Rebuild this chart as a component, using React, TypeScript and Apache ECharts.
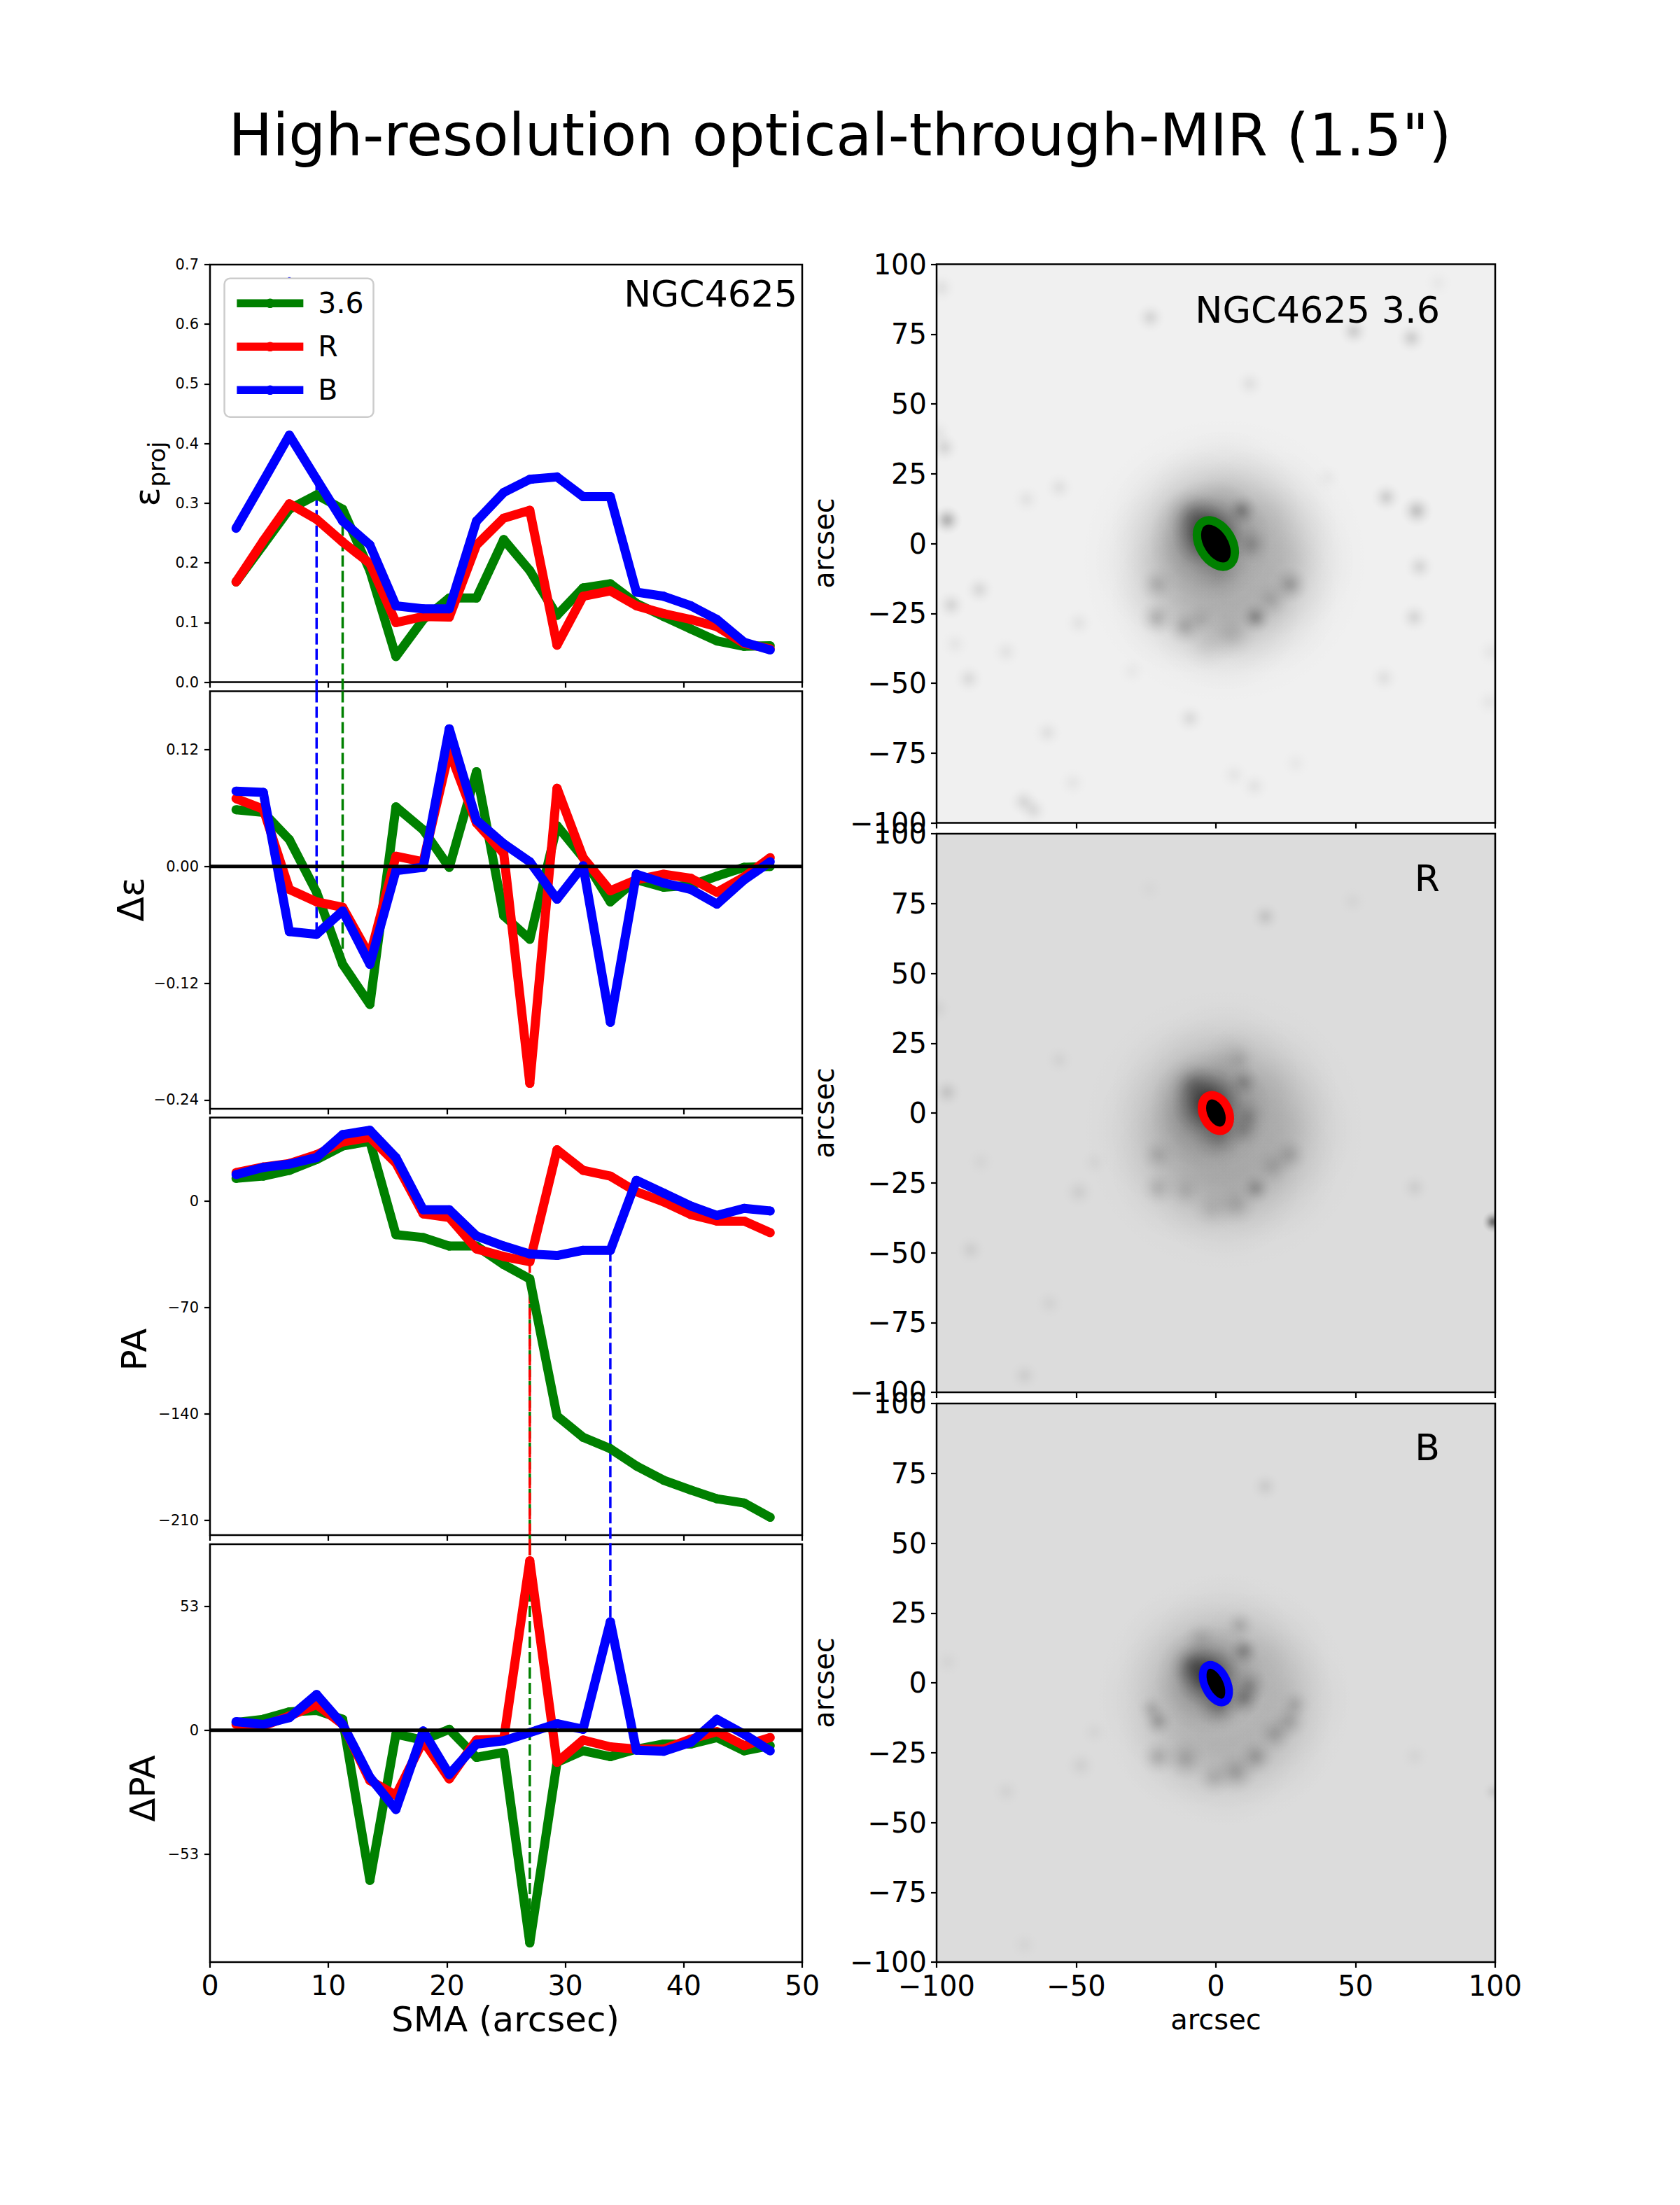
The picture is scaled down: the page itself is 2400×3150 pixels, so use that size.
import { useEffect, useRef } from "react";
import * as echarts from "echarts";

const FONT = "DejaVu Sans";
const GREEN = "#008000";
const RED = "#ff0000";
const BLUE = "#0000ff";

const sma = [2.2, 4.5, 6.7, 9.0, 11.2, 13.5, 15.7, 18.0, 20.2, 22.5, 24.8, 27.0, 29.3, 31.5, 33.8, 36.0, 38.3, 40.6, 42.8, 45.1, 47.3];

const eps36 = [0.168, 0.23, 0.29, 0.314, 0.29, 0.187, 0.043, 0.105, 0.141, 0.141, 0.239, 0.187, 0.112, 0.158, 0.165, 0.132, 0.11, 0.089, 0.069, 0.06, 0.061];
const epsR = [0.168, 0.237, 0.299, 0.273, 0.235, 0.199, 0.1, 0.11, 0.109, 0.23, 0.275, 0.288, 0.062, 0.144, 0.153, 0.128, 0.115, 0.105, 0.093, 0.065, 0.056];
const epsB = [0.258, 0.337, 0.414, 0.34, 0.27, 0.23, 0.128, 0.123, 0.123, 0.27, 0.318, 0.34, 0.344, 0.311, 0.311, 0.151, 0.144, 0.128, 0.105, 0.067, 0.054];

const dEps36 = [0.0583, 0.0555, 0.0276, -0.0265, -0.1005, -0.1417, 0.0612, 0.0376, -0.0009, 0.0973, -0.0507, -0.0748, 0.0418, 0.0091, -0.0364, -0.0137, -0.0213, -0.0194, -0.01, -0.0009, 0.0];
const dEpsR = [0.0697, 0.0589, -0.0236, -0.0364, -0.042, -0.092, 0.0105, 0.0048, 0.1187, 0.0447, 0.0134, -0.2228, 0.0803, 0.0091, -0.025, -0.0137, -0.008, -0.0122, -0.0265, -0.0108, 0.0091];
const dEpsB = [0.0774, 0.076, -0.0669, -0.0697, -0.0458, -0.1005, -0.0043, -0.0009, 0.1414, 0.0475, 0.0233, 0.0048, -0.0336, 0.0006, -0.16, -0.008, -0.017, -0.0236, -0.0387, -0.0137, 0.0048];

const pa36 = [15, 16.5, 20.3, 27.4, 36.3, 39.4, -22, -23.9, -29.5, -29.5, -41.7, -51.1, -141.2, -155.3, -162.8, -174.1, -183.5, -190, -195.7, -198.5, -207.9];
const paR = [18.8, 22.5, 24.8, 30.6, 39, 41.9, 25, -8.3, -10.7, -31.4, -36.4, -39.8, 33.8, 20.3, 16.5, 6.2, -0.4, -8.8, -13.1, -13.1, -20.7];
const paB = [17.5, 22.2, 24.4, 28.7, 43.8, 46.6, 28.7, -5.6, -5.6, -22.9, -29.5, -34.7, -35.7, -32.3, -32.3, 13.7, 5.3, -3.2, -9.4, -4.7, -6.4];

const dPa36 = [3.3, 4.7, 7.9, 8.5, 4.7, -64.2, -1.7, -4.2, 0.4, -11.6, -9.5, -91, -13.7, -8.8, -11.3, -8.1, -5.9, -5.9, -3.1, -8.8, -6.6];
const dPaR = [2.5, 1.8, 6.1, 11, 2.5, -21.5, -27.8, -4.5, -20.8, -4.2, -3.8, 72.5, -13.7, -4.2, -7.1, -8.1, -8.1, -3.8, -0.6, -6.6, -3.1];
const dPaB = [3.7, 2.5, 5.4, 15.3, 2.5, -20.1, -33.9, -0.3, -18.9, -5.9, -4.5, -1, 2.8, 0.4, 46.4, -8.5, -9, -5.2, 4.7, -1.7, -8.8];

const smaTicks = [0, 10, 20, 30, 40, 50];
const epsTicks = [0, 0.1, 0.2, 0.3, 0.4, 0.5, 0.6, 0.7];
const dEpsTicks = [-0.24, -0.12, 0, 0.12];
const paTicks = [-210, -140, -70, 0];
const dPaTicks = [-53, 0, 53];
const imgXTicks = [-100, -50, 0, 50, 100];
const imgYTicks = [-100, -75, -50, -25, 0, 25, 50, 75, 100];

// blobs: x, y (arcsec), radius (arcsec), darkness
const disk36 = [
  [3, -6, 52, 0.11], [23, -6, 27, 0.13], [17, 8, 27, 0.13], [3, 14, 27, 0.14], [-11, 8, 27, 0.13], [-17, -6, 27, 0.1], [-11, -20, 27, 0.13], [3, -26, 27, 0.15], [17, -20, 27, 0.13],
  [-2, 1, 22, 0.42], [-3, 4, 13, 0.55], [-8, 10, 10, 0.2], [1.5, -10, 11, 0.12],
];
const clots36 = [
  [9.3, 11.8, 6, 0.24], [12.8, -0.3, 7, 0.16], [-21, -14.7, 7, 0.13], [-21.2, -26.7, 7, 0.16], [-11, -29.8, 7, 0.16], [-5.5, -27, 6, 0.08],
  [14.2, -26.4, 6, 0.25], [26.6, -14.7, 7, 0.2], [19.8, -20, 7, 0.11], [5.8, -32.6, 9, 0.1], [-2.7, -36, 10, 0.06],
];
const stars36 = [
  [-23.5, 80.9, 5.5, 0.1], [49.4, 76, 5.5, 0.13], [70, 73.6, 5.5, 0.13], [12.1, 57.2, 5.5, 0.06], [61, 16.6, 5.5, 0.13], [71.9, 11.7, 6, 0.18],
  [72.9, -8.3, 5.5, 0.1], [71, -26.4, 5.5, 0.1], [60.2, -48.1, 5.5, 0.06], [-96.2, 8.4, 5.5, 0.24], [-97.2, 34.4, 5.5, 0.1], [-98.3, 91.6, 5.5, 0.06],
  [-94.8, -22, 5.5, 0.1], [-84.7, -16.5, 5.5, 0.09], [-56.1, 20.1, 5.5, 0.06], [-67.8, 15.8, 5.5, 0.05], [-88.5, -48.4, 5.5, 0.08], [-75.1, -38.8, 5.5, 0.05],
  [-60.3, -67.7, 5.5, 0.06], [-49.1, -28.5, 5.5, 0.05], [-9.3, -62.6, 5.5, 0.08], [-68.8, -92.4, 5.5, 0.09], [-65.3, -95.5, 5.5, 0.08], [13.8, -86.9, 5.5, 0.05],
  [6.5, -82.8, 5.5, 0.04], [-51.2, -85.6, 5.5, 0.04], [28.6, -78.7, 5.5, 0.03], [97.9, -56.7, 5.5, 0.04], [79.6, 93.3, 5.5, 0.03], [98.6, -38.8, 5.5, 0.04],
  [-99.7, 39.6, 5.5, 0.05], [39.9, 23.5, 5.5, 0.03], [-93.4, -36, 5.5, 0.04], [-30, -45.7, 5.5, 0.03],
];
const diskR = [
  [3, -6, 52, 0.09], [23, -6, 27, 0.11], [17, 8, 27, 0.11], [3, 14, 27, 0.12], [-11, 8, 27, 0.11], [-17, -6, 27, 0.09], [-11, -20, 27, 0.11], [3, -26, 27, 0.13], [17, -20, 27, 0.11],
  [-2, 1, 22, 0.42], [-3, 4, 13, 0.5], [-8, 10, 9, 0.2], [1, -8, 10, 0.22], [6, 21, 10, 0.05],
];
const clotsR = [
  [10, 11.1, 6, 0.16], [11.4, -1.2, 7, 0.16], [10, -6, 7, 0.16], [-20.7, -15, 7, 0.11], [-20.7, -27, 7, 0.11], [-11, -27.8, 7, 0.08], [14.2, -27, 6, 0.19],
  [20.5, -19, 7, 0.11], [26.2, -15, 7, 0.14], [7.2, -32.9, 8, 0.12], [-1.3, -34.3, 8, 0.08], [8.6, 19.4, 6, 0.07],
];
const starsR = [
  [17.7, 70.3, 5.5, 0.1], [71.2, -26.7, 5.5, 0.06], [99.3, -39, 4, 0.5], [-96.2, 7.4, 5.5, 0.1], [-87.8, -49, 5.5, 0.06], [-68.5, -94, 5.5, 0.06],
  [-59.6, -68.2, 5.5, 0.04], [-56.1, 19, 5.5, 0.04], [-49.1, -28.3, 6, 0.06], [-43.5, -17.7, 5.5, 0.03], [-84.2, -17.5, 5.5, 0.03], [-23.8, 80.2, 5.5, 0.02],
  [49, 75.8, 5.5, 0.03], [-100, 37.3, 5.5, 0.05],
];
const diskB = [
  [3, -6, 48, 0.07], [23, -6, 25, 0.1], [17, 8, 25, 0.1], [3, 14, 25, 0.1], [-11, 8, 25, 0.1], [-17, -6, 25, 0.08], [-11, -20, 25, 0.1], [3, -26, 25, 0.11], [17, -20, 25, 0.1],
  [-2, 1, 20, 0.42], [-3, 3, 12, 0.45], [-8, 6, 9, 0.28], [1, -8, 9, 0.28],
];
const clotsB = [
  [10, 11.4, 6, 0.22], [12.1, -1, 7, 0.19], [10, -5.6, 7, 0.26], [-20.7, -13.8, 6, 0.18], [-23, -9.3, 5.5, 0.12], [-20.7, -26.6, 7, 0.15],
  [-11, -27.3, 8, 0.15], [14.2, -26.6, 7, 0.18], [21.2, -18.3, 7, 0.15], [26.2, -13.8, 7, 0.15], [28.3, -7.8, 6, 0.12], [7.2, -32, 8, 0.18],
  [-0.6, -34, 7, 0.12], [8.6, 20.7, 6, 0.12], [-5.5, 16, 7, 0.09],
];
const starsB = [
  [17.7, 70.3, 5.5, 0.07], [71.2, -26.3, 5.5, 0.03], [99.3, -39, 4, 0.08], [-96, 7.5, 5.5, 0.03], [-75, -39, 5.5, 0.04], [-68.5, -93.8, 5.5, 0.03],
  [-48.4, -29.6, 6, 0.05], [-43.5, -17.6, 5.5, 0.03],
];

// fitted ellipses: x, y, semi-major, semi-minor (arcsec), tilt (deg)
const ellipse36 = [[0, 0, 9, 5.8, 31]];
const ellipseR = [[0, 0, 6.7, 4.55, 25]];
const ellipseB = [[0, -0.3, 7.2, 4, 25]];

const pairs = (ys: number[]) => sma.map((x, i) => [x, ys[i]]);

const blobFill = (a: number) =>
  new echarts.graphic.RadialGradient(0.5, 0.5, 0.5, [
    { offset: 0, color: `rgba(0,0,0,${a})` },
    { offset: 0.2, color: `rgba(0,0,0,${a * 0.85})` },
    { offset: 0.4, color: `rgba(0,0,0,${a * 0.55})` },
    { offset: 0.6, color: `rgba(0,0,0,${a * 0.28})` },
    { offset: 0.8, color: `rgba(0,0,0,${a * 0.1})` },
    { offset: 1, color: "rgba(0,0,0,0)" },
  ]);

const blobSeries = (idx: number, data: number[][]) => ({
  type: "custom",
  xAxisIndex: idx,
  yAxisIndex: idx,
  clip: true,
  silent: true,
  encode: { x: 0, y: 1 },
  data,
  renderItem: (_: any, api: any) => {
    const c = api.coord([api.value(0), api.value(1)]);
    const s = api.size([api.value(2), api.value(2)]);
    return {
      type: "circle",
      shape: { cx: c[0], cy: c[1], r: s[0] },
      style: { fill: blobFill(api.value(3)) },
    };
  },
});

const ellipseSeries = (idx: number, data: number[][], style: any, z: number) => ({
  type: "custom",
  xAxisIndex: idx,
  yAxisIndex: idx,
  clip: true,
  silent: true,
  z,
  encode: { x: 0, y: 1 },
  data,
  renderItem: (_: any, api: any) => {
    const c = api.coord([api.value(0), api.value(1)]);
    const s = api.size([api.value(3), api.value(2)]);
    return {
      type: "ellipse",
      x: c[0],
      y: c[1],
      rotation: (api.value(4) * Math.PI) / 180,
      shape: { cx: 0, cy: 0, rx: s[0], ry: s[1] },
      style,
    };
  },
});

const curve = (name: string, color: string, idx: number, ys: number[], z: number) => ({
  type: "line",
  name,
  xAxisIndex: idx,
  yAxisIndex: idx,
  data: pairs(ys),
  z,
  symbol: "circle",
  symbolSize: 13,
  itemStyle: { color },
  lineStyle: { color, width: 13, join: "round" },
});

const dashed = (color: string, idx: number, from: number[], to: number[], dashOffset = 0) => ({
  type: "line",
  xAxisIndex: idx,
  yAxisIndex: idx,
  data: [from, to],
  z: 1,
  clip: false,
  symbol: "none",
  lineStyle: { color, width: 3.5, type: [16, 6], dashOffset },
});

const zeroLine = (idx: number) => ({
  type: "line",
  xAxisIndex: idx,
  yAxisIndex: idx,
  data: [[0, 0], [50, 0]],
  z: 6,
  symbol: "none",
  lineStyle: { color: "#000", width: 5 },
});

const tickStyle = { show: true, length: 8, lineStyle: { color: "#000", width: 2.2 } };

const fmt = (digits: number) => (v: number) => (v < 0 ? "\u2212" : "") + Math.abs(v).toFixed(digits);

const xAxisOf = (idx: number, min: number, max: number, ticks: number[], labelled: boolean, size: number, margin: number) => ({
  type: "value",
  gridIndex: idx,
  min,
  max,
  splitLine: { show: false },
  axisLine: { show: false, onZero: false },
  axisTick: { ...tickStyle, customValues: ticks },
  axisLabel: {
    show: labelled,
    customValues: ticks,
    fontSize: size,
    color: "#000",
    fontFamily: FONT,
    margin,
    formatter: fmt(0),
  },
});

const yAxisOf = (idx: number, min: number, max: number, ticks: number[], digits: number, size: number, margin: number) => ({
  type: "value",
  gridIndex: idx,
  min,
  max,
  splitLine: { show: false },
  axisLine: { show: false, onZero: false },
  axisTick: { ...tickStyle, customValues: ticks },
  axisLabel: {
    customValues: ticks,
    fontSize: size,
    color: "#000",
    fontFamily: FONT,
    margin,
    formatter: fmt(digits),
  },
});

const text = (t: string, x: number, y: number, size: number, align = "center", rotated = false) => ({
  type: "text",
  x,
  y,
  z: 100,
  rotation: rotated ? Math.PI / 2 : 0,
  style: { text: t, fontSize: size, fontFamily: FONT, fill: "#000", align, verticalAlign: "middle" },
});

export default function App() {
  const ref = useRef<HTMLDivElement>(null);

  useEffect(() => {
    if (!ref.current) return;
    const chart = echarts.init(ref.current, null, { renderer: "svg" });

    const leftBox = (top: number, height: number) => ({ left: 300, top, width: 846, height, show: true, backgroundColor: "#fff", borderColor: "#000", borderWidth: 2.5 });
    const imgBox = (top: number, height: number, bg: string) => ({ left: 1338, top, width: 798, height, show: true, backgroundColor: bg, borderColor: "#000", borderWidth: 2.5 });

    chart.setOption({
      animation: false,
      textStyle: { fontFamily: FONT },
      grid: [
        leftBox(378, 596.5),
        leftBox(987.5, 596.5),
        leftBox(1596.5, 596.5),
        leftBox(2206, 597),
        imgBox(377.5, 798, "#f0f0f0"),
        imgBox(1191, 798, "#dcdcdc"),
        imgBox(2005, 798, "#dcdcdc"),
      ],
      xAxis: [
        xAxisOf(0, 0, 50, smaTicks, false, 39.5, 13),
        xAxisOf(1, 0, 50, smaTicks, false, 39.5, 13),
        xAxisOf(2, 0, 50, smaTicks, false, 39.5, 13),
        xAxisOf(3, 0, 50, smaTicks, true, 39.5, 13),
        xAxisOf(4, -100, 100, imgXTicks, false, 40, 14),
        xAxisOf(5, -100, 100, imgXTicks, false, 40, 14),
        xAxisOf(6, -100, 100, imgXTicks, true, 40, 14),
      ],
      yAxis: [
        yAxisOf(0, 0, 0.7, epsTicks, 1, 21, 16),
        yAxisOf(1, -0.249, 0.18, dEpsTicks, 2, 21, 16),
        yAxisOf(2, -219.6, 55, paTicks, 0, 21, 16),
        yAxisOf(3, -99.2, 79.6, dPaTicks, 0, 21, 16),
        yAxisOf(4, -100, 100, imgYTicks, 0, 40, 14),
        yAxisOf(5, -100, 100, imgYTicks, 0, 40, 14),
        yAxisOf(6, -100, 100, imgYTicks, 0, 40, 14),
      ],
      legend: {
        data: ["3.6", "R", "B"],
        orient: "vertical",
        left: 320.6,
        top: 397.8,
        align: "left",
        padding: [15, 14, 18, 12],
        itemWidth: 95,
        itemHeight: 17,
        itemGap: 21,
        lineStyle: { width: 11.5 },
        backgroundColor: "rgba(255,255,255,0.8)",
        borderColor: "#cccccc",
        borderWidth: 2.5,
        borderRadius: 8,
        textStyle: { fontSize: 41, color: "#000", fontFamily: FONT, padding: [0, 0, 0, 16] },
      },
      series: [
        dashed(BLUE, 0, [9.0, 0.34], [9.0, -0.016]),
        dashed(GREEN, 0, [11.2, 0.29], [11.2, -0.016]),
        dashed(BLUE, 0, [6.7, 0.679], [6.7, 0.676]),
        dashed(BLUE, 1, [9.0, 0.18], [9.0, -0.0697]),
        dashed(GREEN, 1, [11.2, 0.18], [11.2, -0.1005]),
        curve("3.6", GREEN, 0, eps36, 2),
        curve("R", RED, 0, epsR, 3),
        curve("B", BLUE, 0, epsB, 4),
        curve("3.6", GREEN, 1, dEps36, 2),
        curve("R", RED, 1, dEpsR, 3),
        curve("B", BLUE, 1, dEpsB, 4),
        zeroLine(1),
        dashed(GREEN, 2, [27.0, -51.1], [27.0, -225.6], 8),
        dashed(RED, 2, [27.0, -39.8], [27.0, -225.6]),
        dashed(BLUE, 2, [33.8, -32.3], [33.8, -225.6]),
        dashed(GREEN, 3, [27.0, 79.6], [27.0, -91]),
        dashed(RED, 3, [27.0, 79.6], [27.0, 72.5]),
        dashed(BLUE, 3, [33.8, 79.6], [33.8, 46.4]),
        curve("3.6", GREEN, 2, pa36, 2),
        curve("R", RED, 2, paR, 3),
        curve("B", BLUE, 2, paB, 4),
        curve("3.6", GREEN, 3, dPa36, 2),
        curve("R", RED, 3, dPaR, 3),
        curve("B", BLUE, 3, dPaB, 4),
        zeroLine(3),
        blobSeries(4, [...disk36, ...clots36, ...stars36]),
        ellipseSeries(4, ellipse36, { fill: "#000" }, 3),
        ellipseSeries(4, ellipse36, { fill: "none", stroke: GREEN, lineWidth: 12 }, 4),
        blobSeries(5, [...diskR, ...clotsR, ...starsR]),
        ellipseSeries(5, ellipseR, { fill: "#000" }, 3),
        ellipseSeries(5, ellipseR, { fill: "none", stroke: RED, lineWidth: 12 }, 4),
        blobSeries(6, [...diskB, ...clotsB, ...starsB]),
        ellipseSeries(6, ellipseB, { fill: "#000" }, 3),
        ellipseSeries(6, ellipseB, { fill: "none", stroke: BLUE, lineWidth: 11 }, 4),
      ],
      graphic: [
        text('High-resolution optical-through-MIR (1.5")', 1200, 193.5, 83.4),
        text("NGC4625", 1139, 420, 52, "right"),
        text("NGC4625 3.6", 2057, 442, 52.4, "right"),
        text("R", 2057, 1255, 52, "right"),
        text("B", 2057, 2068, 52, "right"),
        text("\u03b5", 210, 710, 50, "center", true),
        text("proj", 224, 663, 34, "center", true),
        text("\u0394\u03b5", 187, 1285, 52, "center", true),
        text("PA", 192, 1928, 50, "center", true),
        text("\u0394PA", 204, 2555, 50, "center", true),
        text("SMA (arcsec)", 722, 2885, 50),
        text("arcsec", 1737, 2885, 40),
        text("arcsec", 1177, 776, 40, "center", true),
        text("arcsec", 1177, 1590, 40, "center", true),
        text("arcsec", 1177, 2404, 40, "center", true),
      ],
    });

    return () => {
      chart.dispose();
    };
  }, []);

  return <div ref={ref} style={{ position: "absolute", left: 0, top: 0, width: 2400, height: 3150 }} />;
}
